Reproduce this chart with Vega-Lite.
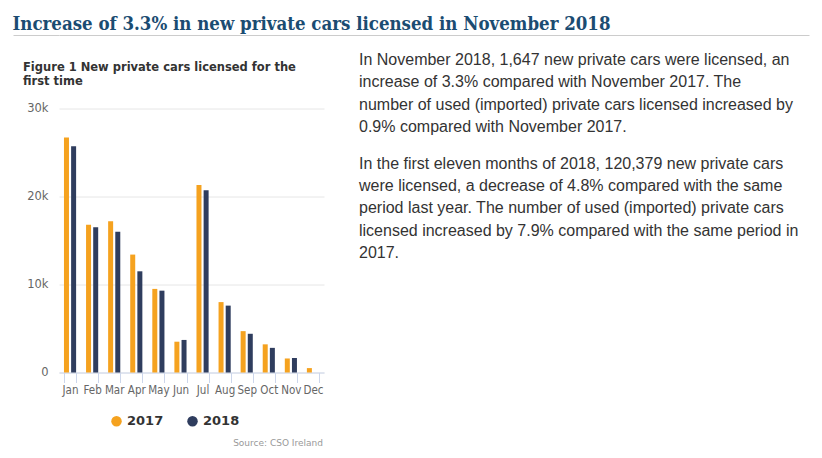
{
  "$schema": "https://vega.github.io/schema/vega-lite/v6.json",
  "padding": {"left": 12, "top": 14, "right": 5, "bottom": 5},
  "background": "white",
  "config": {"view": {"stroke": null}},
  "datasets": {
    "cars": [
      {"month": "Jan", "year": "2017", "count": 26700},
      {"month": "Jan", "year": "2018", "count": 25700},
      {"month": "Feb", "year": "2017", "count": 16800},
      {"month": "Feb", "year": "2018", "count": 16500},
      {"month": "Mar", "year": "2017", "count": 17200},
      {"month": "Mar", "year": "2018", "count": 16000},
      {"month": "Apr", "year": "2017", "count": 13400},
      {"month": "Apr", "year": "2018", "count": 11500},
      {"month": "May", "year": "2017", "count": 9500},
      {"month": "May", "year": "2018", "count": 9300},
      {"month": "Jun", "year": "2017", "count": 3500},
      {"month": "Jun", "year": "2018", "count": 3700},
      {"month": "Jul", "year": "2017", "count": 21300},
      {"month": "Jul", "year": "2018", "count": 20700},
      {"month": "Aug", "year": "2017", "count": 8000},
      {"month": "Aug", "year": "2018", "count": 7600},
      {"month": "Sep", "year": "2017", "count": 4700},
      {"month": "Sep", "year": "2018", "count": 4400},
      {"month": "Oct", "year": "2017", "count": 3200},
      {"month": "Oct", "year": "2018", "count": 2800},
      {"month": "Nov", "year": "2017", "count": 1594},
      {"month": "Nov", "year": "2018", "count": 1647},
      {"month": "Dec", "year": "2017", "count": 500}
    ],
    "blank": [{"s": ""}]
  },
  "vconcat": [
    {
      "data": {"name": "blank"},
      "width": 750,
      "height": 1,
      "title": {
        "text": "Increase of 3.3% in new private cars licensed in November 2018",
        "anchor": "start",
        "font": "DejaVu Serif Condensed",
        "fontSize": 18.5,
        "fontWeight": "bold",
        "color": "#1b4c72",
        "offset": -4
      },
      "mark": {"type": "text"},
      "encoding": {
        "text": {"field": "s"},
        "y": {
          "datum": 0,
          "scale": {"domain": [0, 1]},
          "axis": {
            "title": null,
            "values": [0],
            "labels": false,
            "domain": false,
            "ticks": true,
            "tickSize": 46,
            "tickColor": "#cccccc",
            "grid": true,
            "gridColor": "#cccccc",
            "gridOpacity": 1,
            "minExtent": 46,
            "maxExtent": 46
          }
        }
      }
    },
    {
      "hconcat": [
        {
          "resolve": {"scale": {"color": "independent"}, "legend": {"color": "independent"}},
          "vconcat": [
            {
              "data": {"name": "cars"},
              "width": 265,
              "height": 264,
              "title": {
                "text": ["Figure 1 New private cars licensed for the", "first time"],
                "anchor": "start",
                "font": "DejaVu Sans",
                "fontSize": 11.5,
                "fontWeight": "bold",
                "color": "#333333",
                "lineHeight": 14.5,
                "dx": 10,
                "offset": 15
              },
              "mark": {"type": "bar"},
              "encoding": {
                "x": {
                  "field": "month",
                  "type": "nominal",
                  "sort": ["Jan", "Feb", "Mar", "Apr", "May", "Jun", "Jul", "Aug", "Sep", "Oct", "Nov", "Dec"],
                  "scale": {"paddingInner": 0.45, "paddingOuter": 0.225},
                  "axis": {
                    "title": null,
                    "labelAngle": 0,
                    "domainColor": "#ccd6eb",
                    "tickColor": "#ccd6eb",
                    "tickSize": 10,
                    "tickBand": "extent",
                    "labelColor": "#666666",
                    "labelFont": "DejaVu Sans Condensed",
                    "labelFontSize": 11.5,
                    "labelPadding": 2
                  }
                },
                "xOffset": {"field": "year", "type": "nominal", "scale": {"paddingInner": 0.3}},
                "y": {
                  "field": "count",
                  "type": "quantitative",
                  "scale": {"domain": [0, 30000], "nice": false},
                  "axis": {
                    "title": null,
                    "values": [0, 10000, 20000, 30000],
                    "labelExpr": "datum.value === 0 ? '0' : format(datum.value / 1000, 'd') + 'k'",
                    "domain": false,
                    "ticks": false,
                    "gridColor": "#e6e6e6",
                    "labelColor": "#666666",
                    "labelFont": "DejaVu Sans",
                    "labelFontSize": 11.5,
                    "labelPadding": 11,
                    "minExtent": 46
                  }
                },
                "color": {
                  "field": "year",
                  "type": "nominal",
                  "scale": {"domain": ["2017", "2018"], "range": ["#f5a21f", "#2f3d5e"]},
                  "legend": {
                    "orient": "none",
                    "legendX": 51,
                    "legendY": 306,
                    "title": null,
                    "direction": "horizontal",
                    "symbolType": "circle",
                    "symbolSize": 110,
                    "symbolOpacity": 1,
                    "labelFont": "DejaVu Sans",
                    "labelFontSize": 13,
                    "labelFontWeight": "bold",
                    "labelColor": "#333333",
                    "columnPadding": 22
                  }
                }
              }
            },
            {
              "data": {"name": "blank"},
              "width": 264,
              "height": 1,
              "title": {
                "text": "Source: CSO Ireland",
                "anchor": "end",
                "font": "DejaVu Sans",
                "fontSize": 9,
                "fontWeight": "normal",
                "color": "#999999",
                "offset": 0
              },
              "mark": {"type": "text"},
              "encoding": {"text": {"field": "s"}}
            }
          ],
          "spacing": 10
        },
        {
          "data": {"name": "blank"},
          "width": 440,
          "height": 1,
          "title": {
            "text": [
              "In November 2018, 1,647 new private cars were licensed, an",
              "increase of 3.3% compared with November 2017. The",
              "number of used (imported) private cars licensed increased by",
              "0.9% compared with November 2017."
            ],
            "subtitle": [
              "In the first eleven months of 2018, 120,379 new private cars",
              "were licensed, a decrease of 4.8% compared with the same",
              "period last year. The number of used (imported) private cars",
              "licensed increased by 7.9% compared with the same period in",
              "2017."
            ],
            "orient": "bottom",
            "offset": -62,
            "anchor": "start",
            "font": "Liberation Sans",
            "fontSize": 16,
            "fontWeight": "normal",
            "color": "#333333",
            "lineHeight": 22.3,
            "subtitleFont": "Liberation Sans",
            "subtitleFontSize": 16,
            "subtitleColor": "#333333",
            "subtitleLineHeight": 22.3,
            "subtitlePadding": 21
          },
          "mark": {"type": "text"},
          "encoding": {"text": {"field": "s"}}
        }
      ],
      "spacing": 35
    }
  ],
  "spacing": 11.5
}
